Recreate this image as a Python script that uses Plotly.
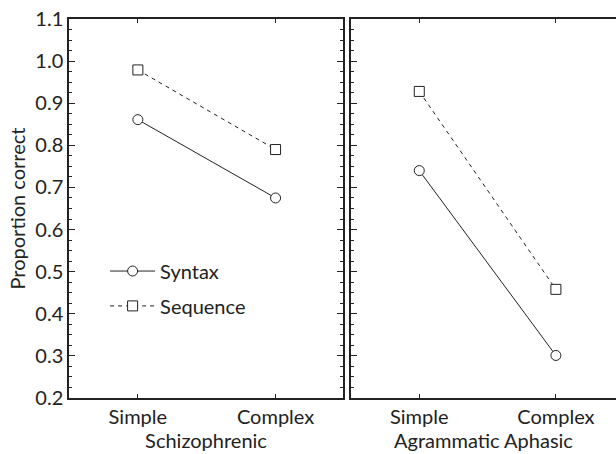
import plotly.graph_objects as go

conditions = ["Simple", "Complex"]
groups = ["Schizophrenic", "Agrammatic Aphasic"]
syntax_schiz = [0.861, 0.675]
sequence_schiz = [0.979, 0.790]
syntax_aphasic = [0.740, 0.301]
sequence_aphasic = [0.928, 0.458]
y_ticks = [0.2, 0.3, 0.4, 0.5, 0.6, 0.7, 0.8, 0.9, 1.0, 1.1]
y_ticklabels = ["0.2", "0.3", "0.4", "0.5", "0.6", "0.7", "0.8", "0.9", "1.0", "1.1"]

FONT = "Lato, Open Sans, sans-serif"
INK = "#222"
FS = 20

fig = go.Figure()

def add(xv, yv, xa, ya, name, symbol, dash, legend, show):
    fig.add_trace(go.Scatter(
        x=xv, y=yv, xaxis=xa, yaxis=ya, name=name, mode="lines+markers",
        line=dict(color=INK, width=1, dash=dash),
        marker=dict(symbol=symbol, size=10, color="white", line=dict(color=INK, width=1)),
        showlegend=show, legend=legend, legendgroup=name,
    ))

add(conditions, syntax_schiz, "x", "y", "Syntax", "circle", "solid", "legend", True)
add(conditions, sequence_schiz, "x", "y", "Sequence", "square", "4px,4px", "legend2", True)
add(conditions, syntax_aphasic, "x2", "y2", "Syntax", "circle", "solid", "legend", False)
add(conditions, sequence_aphasic, "x2", "y2", "Sequence", "square", "4px,4px", "legend2", False)

common_x = dict(
    type="category", showline=True, linecolor=INK, linewidth=1.5, mirror="ticks",
    ticks="inside", ticklen=4, tickcolor=INK, tickfont=dict(size=FS, color=INK, family=FONT),
    showgrid=False, zeroline=False, title_font=dict(size=FS, color=INK, family=FONT),
    title_standoff=6, automargin=False,
)
common_y = dict(
    range=[0.2, 1.1], showline=True, linecolor=INK, linewidth=1.5,
    ticks="inside", ticklen=6, tickcolor=INK, tickvals=y_ticks,
    showgrid=False, zeroline=False, automargin=False,
    minor=dict(ticks="inside", ticklen=3, dtick=0.025, tickcolor=INK, showgrid=False),
)

fig.update_layout(
    width=616, height=454,
    margin=dict(l=69, r=0, t=19, b=56, autoexpand=False),
    paper_bgcolor="white", plot_bgcolor="white",
    font=dict(family=FONT, color=INK, size=FS),
    xaxis=dict(common_x, domain=[0, 0.501], range=[-0.5, 1.49], title_text=groups[0], anchor="y"),
    xaxis2=dict(common_x, domain=[0.5155, 1], range=[-0.5, 1.44], title_text=groups[1], anchor="y2"),
    yaxis=dict(common_y, mirror="ticks", anchor="x", ticktext=y_ticklabels,
               tickfont=dict(size=FS, color=INK, family=FONT),
               title=dict(text="Proportion correct", font=dict(size=20, color=INK, family=FONT), standoff=4)),
    yaxis2=dict(common_y, mirror=False, anchor="x2", showticklabels=False),
    legend=dict(x=0.066, y=0.335, xanchor="left", yanchor="middle", bgcolor="rgba(0,0,0,0)",
                font=dict(size=FS, family=FONT, color=INK), itemwidth=45),
    legend2=dict(x=0.066, y=0.243, xanchor="left", yanchor="middle", bgcolor="rgba(0,0,0,0)",
                 font=dict(size=FS, family=FONT, color=INK), itemwidth=45),
)

fig.write_html(
    "out.html",
    config={"displayModeBar": False},
    post_script="document.body.style.margin='0';document.body.style.overflow='hidden';",
)
